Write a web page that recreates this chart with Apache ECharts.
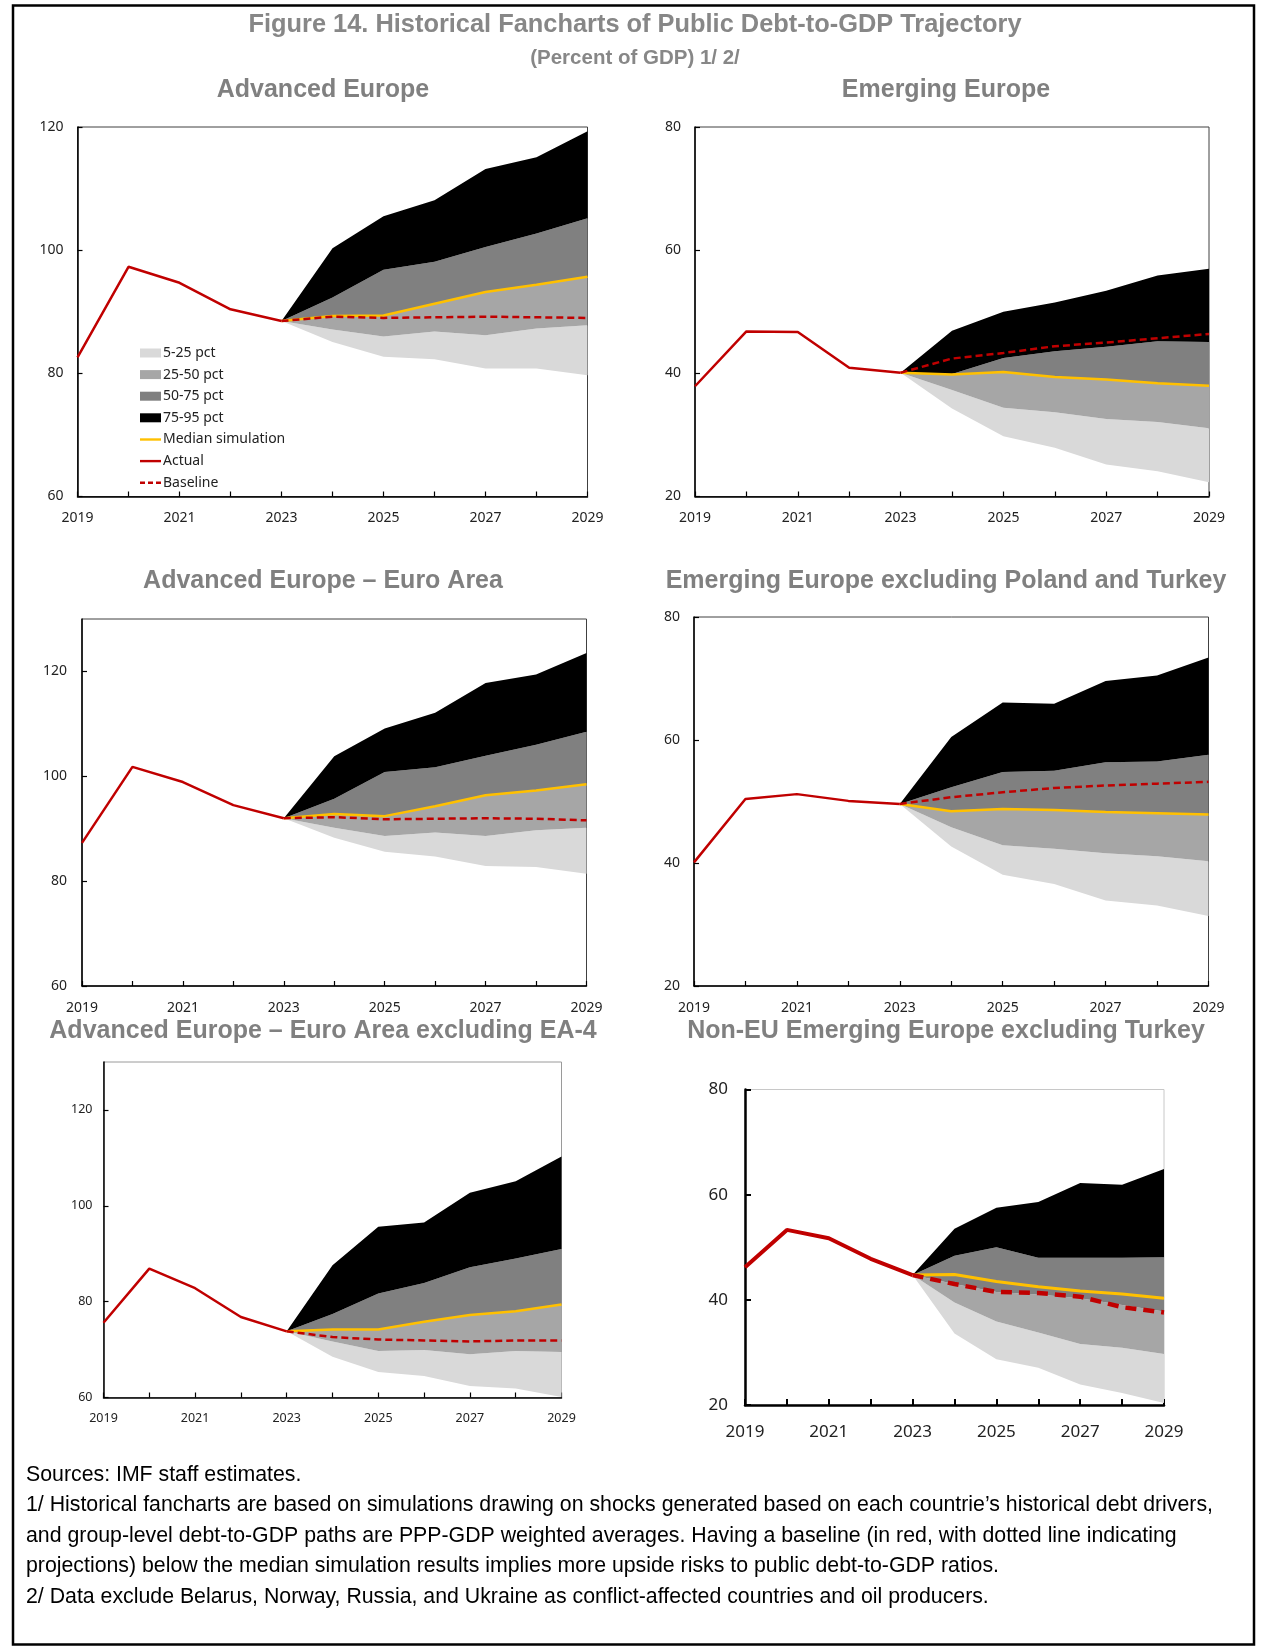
<!DOCTYPE html>
<html><head><meta charset="utf-8">
<script src="https://cdn.jsdelivr.net/npm/echarts@6/dist/echarts.min.js"></script>
<style>html,body{margin:0;padding:0;background:#fff}#c{width:1262px;height:1648px}</style>
</head><body><div id="c"></div>
<script>
// ---------- DATA ----------
const years = ['2019','2020','2021','2022','2023','2024','2025','2026','2027','2028','2029'];
// actual: 2019-2023 ; projections: 2023-2029

// Advanced Europe
const aeActual   = [82.6, 97.3, 94.7, 90.4, 88.5];
const aeBaseline = [88.5, 89.2, 89.0, 89.1, 89.2, 89.1, 89.0];
const aeMedian   = [88.5, 89.3, 89.4, 91.3, 93.2, 94.4, 95.7];
const aeP5       = [88.5, 85.1, 82.7, 82.3, 80.8, 80.8, 79.7];
const aeP25      = [88.5, 87.1, 86.0, 86.8, 86.2, 87.3, 87.8];
const aeP50      = [88.5, 89.3, 89.4, 91.3, 93.2, 94.4, 95.7];
const aeP75      = [88.5, 92.3, 96.8, 98.1, 100.5, 102.7, 105.2];
const aeP95      = [88.5, 100.3, 105.5, 108.1, 113.2, 115.1, 119.3];

// Emerging Europe
const eeActual   = [37.9, 46.8, 46.7, 40.9, 40.1];
const eeBaseline = [40.1, 42.4, 43.3, 44.4, 45.0, 45.7, 46.4];
const eeMedian   = [40.1, 39.8, 40.2, 39.4, 39.0, 38.4, 38.0];
const eeP5       = [40.1, 34.3, 29.8, 27.9, 25.2, 24.1, 22.3];
const eeP25      = [40.1, 37.3, 34.4, 33.7, 32.6, 32.1, 31.1];
const eeP50      = [40.1, 39.8, 40.2, 39.4, 39.0, 38.4, 38.0];
const eeP75      = [40.1, 39.9, 42.5, 43.6, 44.3, 45.2, 45.1];
const eeP95      = [40.1, 46.9, 50.0, 51.5, 53.4, 55.9, 57.0];

// Advanced Europe – Euro Area
const eaActual   = [87.3, 101.8, 98.9, 94.5, 92.0];
const eaBaseline = [92.0, 92.2, 91.8, 91.9, 92.0, 91.9, 91.6];
const eaMedian   = [92.0, 92.8, 92.4, 94.3, 96.4, 97.3, 98.5];
const eaP5       = [92.0, 88.3, 85.6, 84.7, 82.9, 82.7, 81.4];
const eaP25      = [92.0, 90.2, 88.6, 89.3, 88.6, 89.7, 90.2];
const eaP50      = [92.0, 92.8, 92.4, 94.3, 96.4, 97.3, 98.5];
const eaP75      = [92.0, 95.7, 100.8, 101.7, 103.9, 106.0, 108.5];
const eaP95      = [92.0, 103.8, 109.1, 112.1, 117.8, 119.4, 123.5];

// Emerging Europe excluding Poland and Turkey
const expActual   = [40.1, 50.4, 51.2, 50.1, 49.6];
const expBaseline = [49.6, 50.7, 51.5, 52.2, 52.6, 52.9, 53.2];
const expMedian   = [49.6, 48.4, 48.8, 48.6, 48.3, 48.1, 47.9];
const expP5       = [49.6, 42.7, 38.1, 36.6, 33.9, 33.1, 31.4];
const expP25      = [49.6, 45.8, 42.9, 42.3, 41.6, 41.1, 40.3];
const expP50      = [49.6, 48.4, 48.8, 48.6, 48.3, 48.1, 47.9];
const expP75      = [49.6, 52.3, 54.8, 55.0, 56.4, 56.5, 57.6];
const expP95      = [49.6, 60.5, 66.1, 65.9, 69.6, 70.5, 73.4];

// Advanced Europe – Euro Area excluding EA-4
const ea4Actual   = [75.6, 86.9, 82.8, 76.8, 73.8];
const ea4Baseline = [73.8, 72.6, 72.1, 71.9, 71.7, 71.9, 71.9];
const ea4Median   = [73.8, 74.2, 74.2, 75.8, 77.2, 78.0, 79.4];
const ea4P5       = [73.8, 68.5, 65.3, 64.5, 62.4, 61.9, 60.1];
const ea4P25      = [73.8, 71.7, 69.7, 69.9, 69.0, 69.7, 69.5];
const ea4P50      = [73.8, 74.2, 74.2, 75.8, 77.2, 78.0, 79.4];
const ea4P75      = [73.8, 77.4, 81.7, 83.9, 87.2, 89.0, 91.0];
const ea4P95      = [73.8, 87.6, 95.6, 96.5, 102.7, 105.1, 110.3];

// Non-EU Emerging Europe excluding Turkey
const neuActual   = [46.2, 53.3, 51.7, 47.8, 44.7];
const neuBaseline = [44.7, 43.0, 41.5, 41.3, 40.6, 38.6, 37.6];
const neuMedian   = [44.7, 44.8, 43.5, 42.5, 41.7, 41.1, 40.3];
const neuP5       = [44.7, 33.6, 28.7, 27.1, 23.9, 22.3, 20.4];
const neuP25      = [44.7, 39.5, 35.9, 33.8, 31.6, 30.9, 29.7];
const neuP50      = [44.7, 43.0, 41.5, 41.0, 40.3, 39.0, 37.8];
const neuP75      = [44.7, 48.4, 50.0, 48.0, 48.0, 48.0, 48.1];
const neuP95      = [44.7, 53.5, 57.5, 58.6, 62.2, 61.9, 64.9];

// axis ranges
const yRanges = [[60,120],[20,80],[60,130],[20,80],[60,130],[20,80]];
const yInterval = 20;

const panelTitles = ['Advanced Europe','Emerging Europe','Advanced Europe \u2013 Euro Area',
  'Emerging Europe excluding Poland and Turkey','Advanced Europe \u2013 Euro Area excluding EA-4',
  'Non-EU Emerging Europe excluding Turkey'];
const mainTitle = 'Figure 14. Historical Fancharts of Public Debt-to-GDP Trajectory';
const subTitle = '(Percent of GDP) 1/ 2/';
const notes = [
 'Sources: IMF staff estimates.',
 '1/ Historical fancharts are based on simulations drawing on shocks generated based on each countrie\u2019s historical debt drivers,',
 'and group-level debt-to-GDP paths are PPP-GDP weighted averages. Having a baseline (in red, with dotted line indicating',
 'projections) below the median simulation results implies more upside risks to public debt-to-GDP ratios.',
 '2/ Data exclude Belarus, Norway, Russia, and Ukraine as conflict-affected countries and oil producers.'
];
const bandNames = ['5-25 pct','25-50 pct','50-75 pct','75-95 pct'];

const panelData = [
 {actual:aeActual, baseline:aeBaseline, median:aeMedian, p:[aeP5,aeP25,aeP50,aeP75,aeP95]},
 {actual:eeActual, baseline:eeBaseline, median:eeMedian, p:[eeP5,eeP25,eeP50,eeP75,eeP95]},
 {actual:eaActual, baseline:eaBaseline, median:eaMedian, p:[eaP5,eaP25,eaP50,eaP75,eaP95]},
 {actual:expActual, baseline:expBaseline, median:expMedian, p:[expP5,expP25,expP50,expP75,expP95]},
 {actual:ea4Actual, baseline:ea4Baseline, median:ea4Median, p:[ea4P5,ea4P25,ea4P50,ea4P75,ea4P95]},
 {actual:neuActual, baseline:neuBaseline, median:neuMedian, p:[neuP5,neuP25,neuP50,neuP75,neuP95]}
];

// ---------- LAYOUT / STYLE ----------
const layout = [
 {l:77.5, t:127, r:587.5, b:496.5, tx:323, ty:90, fs:14, ym:14, xm:15, lw:2.5, bc:'#404040', ac:'#000', aw:1.5, tl:5},
 {l:695, t:127, r:1209, b:496.5, tx:946, ty:90, fs:14, ym:14, xm:15, lw:2.5, bc:'#404040', ac:'#000', aw:1.5, tl:5},
 {l:82, t:619, r:586.5, b:986, tx:323, ty:581, fs:14, ym:15, xm:15, lw:2.5, bc:'#404040', ac:'#000', aw:1.5, tl:5},
 {l:694, t:617, r:1208.5, b:986, tx:946, ty:581, fs:14, ym:14, xm:15, lw:2.5, bc:'#404040', ac:'#000', aw:1.5, tl:5},
 {l:103.5, t:1062, r:561.5, b:1397.5, tx:323, ty:1031, fs:12.5, ym:11, xm:14, lw:2.5, bc:'#9a9a9a', ac:'#000', aw:1.5, tl:5},
 {l:745, t:1089.5, r:1164, b:1405, tx:946, ty:1031, fs:17, ym:17, xm:19, lw:4, bc:'#c8c8c8', ac:'#000', aw:2.5, tl:6}
];
const bandColors = ['#d9d9d9','#a6a6a6','#808080','#000000'];
const cMedian = '#ffc000', cRed = '#c00000';

const grids=[], xAxes=[], yAxes=[], series=[];
const NA='-';
function proj(a){ return [NA,NA,NA,NA].concat(a); }
function hist(a){ return a.concat([NA,NA,NA,NA,NA,NA]); }

layout.forEach((L,g)=>{
  grids.push({left:L.l, top:L.t, width:L.r-L.l, height:L.b-L.t, show:true,
    borderColor:L.bc, borderWidth:1, backgroundColor:'transparent', containLabel:false});
  xAxes.push({type:'category', gridIndex:g, data:years, boundaryGap:false,
    axisLine:{lineStyle:{color:L.ac, width:L.aw}},
    axisTick:{inside:true, length:L.tl, interval:0, lineStyle:{color:L.ac, width:L.aw>2?2:1.2}},
    axisLabel:{interval:1, margin:L.xm, fontSize:L.fs, fontFamily:'Noto Sans', color:'#222'},
    splitLine:{show:false}});
  yAxes.push({type:'value', gridIndex:g, min:yRanges[g][0], max:yRanges[g][1], interval:yInterval,
    axisLine:{show:true, lineStyle:{color:L.ac, width:L.aw}},
    axisTick:{show:true, inside:true, length:L.tl, lineStyle:{color:L.ac, width:L.aw>2?2:1.2}},
    axisLabel:{margin:L.ym, fontSize:L.fs, fontFamily:'Noto Sans', color:'#222', showMaxLabel: (yRanges[g][1]-yRanges[g][0])%yInterval===0},
    splitLine:{show:false}});
  const D = panelData[g];
  const st = 'fan'+g;
  series.push({type:'line', name:'_base'+g, xAxisIndex:g, yAxisIndex:g, stack:st, data:proj(D.p[0]),
    symbol:'none', lineStyle:{width:0, opacity:0}, silent:true, z:1});
  for(let k=0;k<4;k++){
    const diff = D.p[k+1].map((v,i)=>Math.round((v - D.p[k][i])*100)/100);
    series.push({type:'line', name:bandNames[k], xAxisIndex:g, yAxisIndex:g, stack:st, data:proj(diff),
      symbol:'none', lineStyle:{width:0, opacity:0}, itemStyle:{color:bandColors[k]},
      areaStyle:{color:bandColors[k], opacity:1}, silent:true, z:1});
  }
  series.push({type:'line', name:'Median simulation', xAxisIndex:g, yAxisIndex:g, data:proj(D.median),
    symbol:'none', itemStyle:{color:cMedian}, lineStyle:{color:cMedian, width:g===5?3:2.5}, z:3});
  series.push({type:'line', name:'Baseline', xAxisIndex:g, yAxisIndex:g, data:proj(D.baseline),
    symbol:'none', itemStyle:{color:cRed}, lineStyle:{color:cRed, width:g===5?4.5:2.5, type:g===5?[11,7]:[7,4]}, z:4});
  series.push({type:'line', name:'Actual', xAxisIndex:g, yAxisIndex:g, data:hist(D.actual),
    symbol:'none', itemStyle:{color:cRed}, lineStyle:{color:cRed, width:L.lw}, z:5});
});

// ---------- TEXT ----------
const graphics = [];
graphics.push({type:'rect', shape:{x:13, y:5.5, width:1241, height:1639}, style:{fill:'none', stroke:'#000', lineWidth:2.5}, z:0});
graphics.push({type:'text', x:635, y:24.5, style:{text:mainTitle, font:'bold 25.4px "Liberation Sans", Arial', fill:'#878787', textAlign:'center', textVerticalAlign:'middle'}});
graphics.push({type:'text', x:635, y:58, style:{text:subTitle, font:'bold 20.5px "Liberation Sans", Arial', fill:'#878787', textAlign:'center', textVerticalAlign:'middle'}});
layout.forEach((L,g)=>{
  graphics.push({type:'text', x:L.tx, y:L.ty, style:{text:panelTitles[g], font:'bold 25px "Liberation Sans", Arial', fill:'#808080', textAlign:'center', textVerticalAlign:'middle'}});
});
notes.forEach((t,i)=>{
  graphics.push({type:'text', x:26, y:1475 + i*30.5, style:{text:t, font:'21.3px "Liberation Sans", Arial', fill:'#000', textAlign:'left', textVerticalAlign:'middle'}});
});

const lineIcon = 'path://M0,0L0,0M0,3.4h21v2.4h-21zM21,9L21,9';
const dashIcon = 'path://M0,0L0,0M0,3.4h5v2.4h-5zM8,3.4h5v2.4h-5zM16,3.4h5v2.4h-5zM21,9L21,9';

const chart = echarts.init(document.getElementById('c'), null, {renderer:'canvas'});
chart.setOption({
  animation:false,
  backgroundColor:'#fff',
  grid:grids, xAxis:xAxes, yAxis:yAxes, series:series,
  graphic:graphics,
  legend:{orient:'vertical', left:140, top:346, padding:0, itemWidth:21, itemHeight:9, itemGap:7.6,
    selectedMode:false,
    itemStyle:{borderWidth:0},
    textStyle:{fontSize:14, fontFamily:'Noto Sans', color:'#222', padding:[0,0,0,-3]},
    data:[
      {name:'5-25 pct', icon:'rect'},
      {name:'25-50 pct', icon:'rect'},
      {name:'50-75 pct', icon:'rect'},
      {name:'75-95 pct', icon:'rect'},
      {name:'Median simulation', icon:lineIcon},
      {name:'Actual', icon:lineIcon},
      {name:'Baseline', icon:dashIcon}
    ]}
});
</script></body></html>
